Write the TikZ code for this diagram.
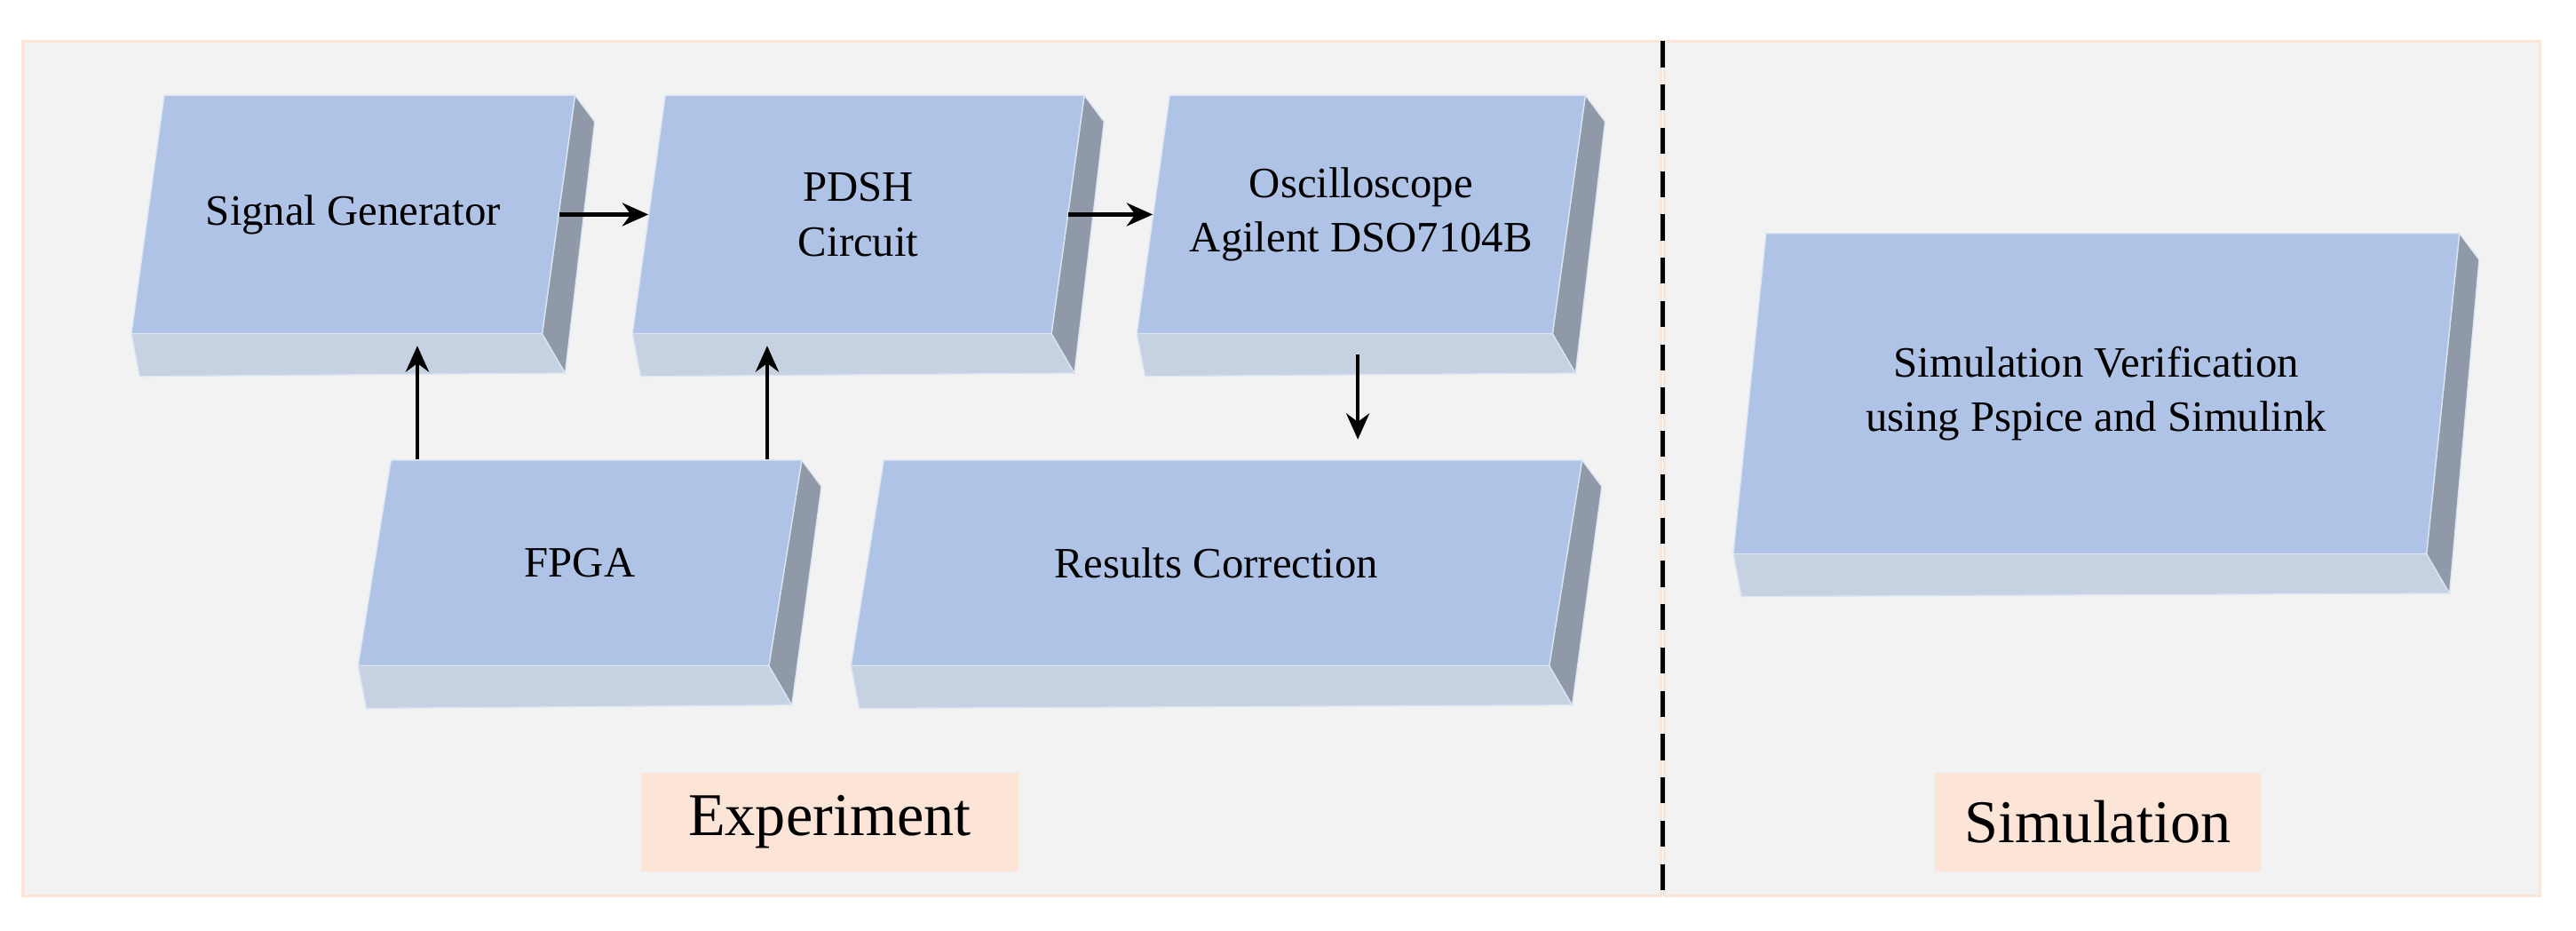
\documentclass[tikz,border=0pt]{standalone}
\usepackage{fontspec}
\setmainfont{Liberation Serif}
\usetikzlibrary{arrows.meta,calc}

\definecolor{panel}{HTML}{F2F2F2}
\definecolor{panelline}{HTML}{FBE5D6}
\definecolor{labelfill}{HTML}{FCE4D6}
\definecolor{frontface}{HTML}{AFC3E6}
\definecolor{sideface}{HTML}{8F99A8}
\definecolor{bottomface}{HTML}{C6D1E2}
\definecolor{boxline}{HTML}{DCE5F4}

\tikzset{
  boxtext/.style={align=center, font=\fontsize{15}{19}\selectfont},
  tag/.style={fill=labelfill, minimum width=230*0.02cm, minimum height=60*0.02cm, font=\fontsize{21}{25}\selectfont},
  flow/.style={-{Stealth[length=9pt,width=8pt]}, line width=1.4pt}
}

% 3D box: name, bottom-left x, y, width, height, text
\newcommand{\threedbox}[6]{%
  \fill[bottomface, draw=boxline] (#2,#3) -- (#2+#4,#3) -- (#2+#4+14,#3+24) -- (#2+5,#3+26) -- cycle;
  \fill[sideface, draw=boxline] (#2+#4,#3) -- (#2+#4+20,#3-#5) -- (#2+#4+32,#3-#5+16) -- (#2+#4+14,#3+24) -- cycle;
  \fill[frontface, draw=boxline] (#2,#3) -- (#2+#4,#3) -- (#2+#4+20,#3-#5) -- (#2+20,#3-#5) -- cycle;
  \node[boxtext, minimum width=#4*0.02cm, minimum height=#5*0.02cm] (#1) at (#2+#4/2+10,#3-#5/2) {#6};
}

\begin{document}
\begin{tikzpicture}[x=0.02cm, y=-0.02cm]
\useasboundingbox (0,0) rectangle (1568,566);
% panels
\fill[panel, draw=panelline, line width=1pt] (14,25) rectangle (1011,545);
\fill[panel, draw=panelline, line width=1pt] (1013,25) rectangle (1546,545);
\draw[dashed, line width=1.6pt, dash pattern=on 9pt off 6pt] (1012,25) -- (1012,545);

% boxes
\threedbox{sg}{80}{203}{250}{145}{Signal Generator}
\threedbox{pdsh}{385}{203}{255}{145}{PDSH\\Circuit}
\threedbox{osc}{692}{203}{253}{145}{Oscilloscope\\Agilent DSO7104B}
\threedbox{fpga}{218}{405}{250}{125}{FPGA}
\threedbox{res}{518}{405}{425}{125}{Results Correction}
\threedbox{sim}{1055}{337}{422}{195}{Simulation Verification\\using Pspice and Simulink}

% connectors
\draw[flow] (sg.east) -- (pdsh.west);
\draw[flow] (pdsh.east) -- (osc.west);
\draw[flow, shorten <=7pt, shorten >=7pt] ([xshift=-0.04cm]osc.south) -- ([xshift=-0.04cm]osc.south |- res.north);
\draw[flow, shorten >=4pt] ([xshift=-1.98cm]fpga.north) -- ([xshift=-1.98cm]fpga.north |- sg.south);
\draw[flow, shorten >=4pt] ([xshift=2.28cm]fpga.north) -- ([xshift=2.28cm]fpga.north |- sg.south);

% labels
\node[tag] (exp) at (505,500) {Experiment};
\node[tag, minimum width=198*0.02cm] (simtag) at (1277,500) {Simulation};
\end{tikzpicture}
\end{document}
